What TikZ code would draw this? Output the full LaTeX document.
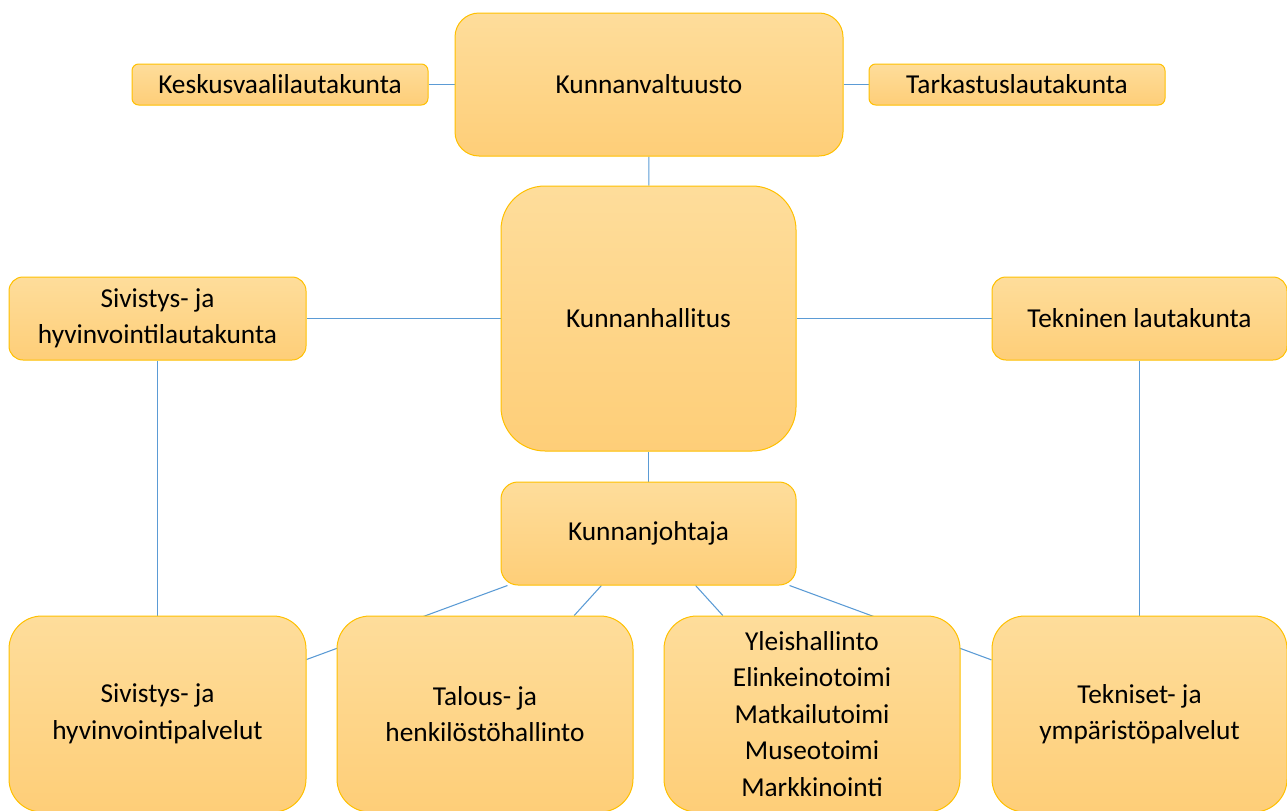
\documentclass[tikz,border=0pt]{standalone}
\usepackage{fontspec}
\setmainfont{Carlito}
\usetikzlibrary{backgrounds}
\definecolor{boxtop}{RGB}{254,221,155}
\definecolor{boxbot}{RGB}{254,206,120}
\definecolor{boxedge}{RGB}{255,192,0}
\definecolor{linkc}{RGB}{91,155,213}
\tikzset{
  orgbox/.style={draw=boxedge, line width=0.75pt, top color=boxtop, bottom color=boxbot,
    inner sep=0pt, align=center, font=\fontsize{20.5}{27.4}\selectfont, text=black},
  link/.style={draw=linkc, line width=0.8pt}
}
\begin{document}
\begin{tikzpicture}[x=0.75pt,y=-0.75pt]
\useasboundingbox (0,0) rectangle (1287,810);
% top row
\node[orgbox, minimum width=291pt, minimum height=107.25pt, rounded corners=18pt] (kv) at (649,84.5) {Kunnanvaltuusto};
\node[orgbox, minimum width=222pt, minimum height=30.75pt, rounded corners=5pt] (kvl) at (280,84.5) {Keskusvaalilautakunta};
\node[orgbox, minimum width=222pt, minimum height=30.75pt, rounded corners=5pt] (tkl) at (1017,84.5) {Tarkastuslautakunta};
% middle
\node[orgbox, minimum width=221.25pt, minimum height=198.75pt, rounded corners=33pt] (kh) at (648.5,318.5) {Kunnanhallitus};
\node[orgbox, minimum width=222.75pt, minimum height=62.25pt, rounded corners=10.5pt] (shl) at (157.5,318.5) {Sivistys- ja\\hyvinvointilautakunta};
\node[orgbox, minimum width=221.25pt, minimum height=62.25pt, rounded corners=10.5pt] (tl) at (1139.5,318.5) {Tekninen lautakunta};
\node[orgbox, minimum width=221.25pt, minimum height=77.25pt, rounded corners=12.75pt] (kj) at (648.5,533.5) {Kunnanjohtaja};
% bottom row
\node[orgbox, minimum width=222.75pt, minimum height=147pt, rounded corners=24.75pt] (b1) at (157.5,714) {Sivistys- ja\\hyvinvointipalvelut};
\node[orgbox, minimum width=222pt, minimum height=147pt, rounded corners=24.75pt] (b2) at (485,714) {Talous- ja\\henkilöstöhallinto};
\node[orgbox, minimum width=222pt, minimum height=147pt, rounded corners=24.75pt] (b3) at (812,714) {Yleishallinto\\Elinkeinotoimi\\Matkailutoimi\\Museotoimi\\Markkinointi};
\node[orgbox, minimum width=221.25pt, minimum height=147pt, rounded corners=24.75pt] (b4) at (1139.5,714) {Tekniset- ja\\ympäristöpalvelut};
% connectors
\begin{scope}[on background layer]
\draw[link] (kvl) -- (kv);
\draw[link] (kv) -- (tkl);
\draw[link] (kv) -- (kh);
\draw[link] (kh) -- (shl);
\draw[link] (kh) -- (tl);
\draw[link] (kh) -- (kj);
\draw[link] (shl) -- (b1);
\draw[link] (tl) -- (b4);
\draw[link] (kj) -- (b1);
\draw[link] (kj) -- (b2);
\draw[link] (kj) -- (b3);
\draw[link] (kj) -- (b4);
\end{scope}
\end{tikzpicture}
\end{document}
